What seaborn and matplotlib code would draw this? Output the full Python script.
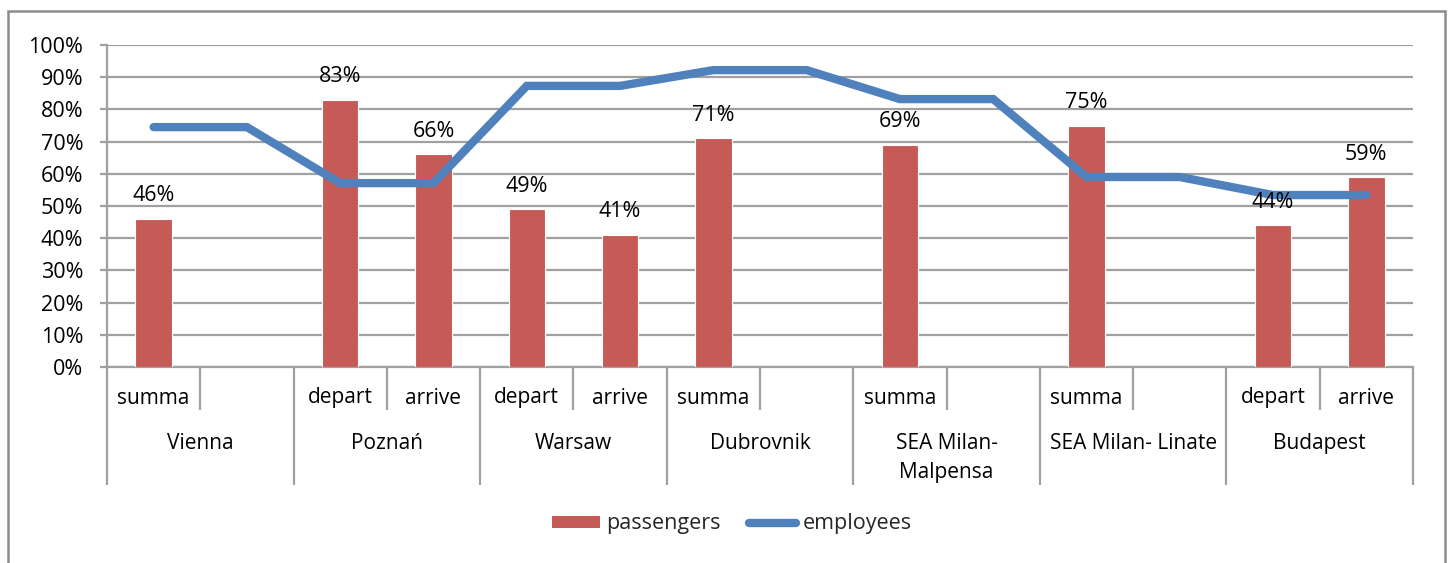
import matplotlib
matplotlib.use("Agg")
import matplotlib.pyplot as plt
import matplotlib.patches as mpatches
from matplotlib.lines import Line2D
import numpy as np
import pandas as pd
import seaborn as sns

# ---- data ----
groups = ["Vienna", "Poznań", "Warsaw", "Dubrovnik", "SEA Milan-\nMalpensa", "SEA Milan- Linate", "Budapest"]
sub_labels = ["summa", "", "depart", "arrive", "depart", "arrive", "summa", "",
              "summa", "", "summa", "", "depart", "arrive"]
passengers = [0.46, np.nan, 0.83, 0.66, 0.49, 0.41, 0.71, np.nan,
              0.69, np.nan, 0.75, np.nan, 0.44, 0.59]
employees = [0.745, 0.745, 0.571, 0.571, 0.873, 0.873, 0.922, 0.922,
             0.832, 0.832, 0.590, 0.590, 0.534, 0.534]

BAR = "#C55A57"
LINE = "#4F81BD"
GRID = "#A0A0A0"
FONT = "Open Sans"
FS = 15.5

sns.set_theme(style="white")
plt.rcParams["font.family"] = [FONT, "DejaVu Sans"]

df = pd.DataFrame({"slot": np.arange(len(sub_labels)),
                   "passengers": passengers,
                   "employees": employees})

W, H = 1448, 563
fig = plt.figure(figsize=(W / 100, H / 100), dpi=100)
ax = fig.add_axes([107 / W, 1 - 367 / H, (1413 - 107) / W, (367 - 45) / H])

sns.barplot(data=df, x="slot", y="passengers", order=list(range(len(sub_labels))),
            color=BAR, saturation=1, width=0.39, ax=ax, zorder=3,
            edgecolor="white", linewidth=0.8, errorbar=None)
sns.lineplot(data=df, x="slot", y="employees", color=LINE, linewidth=6,
             ax=ax, zorder=4, solid_capstyle="round", solid_joinstyle="miter")

ax.set_xlim(-0.5, len(sub_labels) - 0.5)
ax.set_ylim(0, 1)
ax.set_yticks(np.arange(0, 1.01, 0.1))
ax.set_yticklabels([f"{int(round(v * 100))}%" for v in np.arange(0, 1.01, 0.1)],
                   fontsize=FS, color="black")
ax.yaxis.grid(True, color=GRID, linewidth=1.6, zorder=0)
ax.set_axisbelow(True)
ax.tick_params(axis="y", length=5, width=1.6, color=GRID, pad=12, left=True)
for s in ["top", "right"]:
    ax.spines[s].set_visible(False)
for s in ["left", "bottom"]:
    ax.spines[s].set_color(GRID)
    ax.spines[s].set_linewidth(1.6)
ax.set_xlabel("")
ax.set_ylabel("")

# category axis: separators as ticks
n = len(sub_labels)
ax.set_xticks(np.arange(-0.5, n, 2))
ax.set_xticklabels([])
ax.set_xticks(np.arange(0.5, n, 2), minor=True)
ax.tick_params(axis="x", which="major", length=85, width=1.6, color=GRID, bottom=True, direction="out")
ax.tick_params(axis="x", which="minor", length=31, width=1.6, color=GRID, bottom=True, direction="out")

trans = ax.get_xaxis_transform()
for i, lab in enumerate(sub_labels):
    if lab:
        ax.text(i, -31 / 322, lab, transform=trans, ha="center", va="center",
                fontsize=FS - 0.5, color="black")
for g, name in enumerate(groups):
    ax.text(2 * g + 0.5, -66 / 322, name, transform=trans, ha="center", va="top",
            fontsize=FS - 0.5, color="black", linespacing=1.5)

# data labels
for i, v in enumerate(passengers):
    if not np.isnan(v):
        ax.annotate(f"{int(round(v * 100))}%", (i, v), xytext=(0, 9),
                    textcoords="offset points", ha="center", va="bottom",
                    fontsize=FS, color="black", zorder=5)

# legend
handles = [mpatches.Patch(facecolor=BAR, edgecolor="none"),
           Line2D([0], [0], color=LINE, linewidth=6, solid_capstyle="round")]
fig.legend(handles, ["passengers", "employees"], loc="center",
           bbox_to_anchor=(732 / W, 1 - 524 / H), ncol=2, frameon=False,
           fontsize=FS, handlelength=2.2, handleheight=0.5, handletextpad=0.3,
           columnspacing=1.3)

# outer chart frame
frame = mpatches.Rectangle((8 / W, -0.05), (1445 - 8) / W, 1.05 - 11 / H,
                           transform=fig.transFigure, fill=False,
                           edgecolor="#8C8C8C", linewidth=1.8, clip_on=False)
fig.patches.append(frame)

fig.savefig("out.png", dpi=100)
